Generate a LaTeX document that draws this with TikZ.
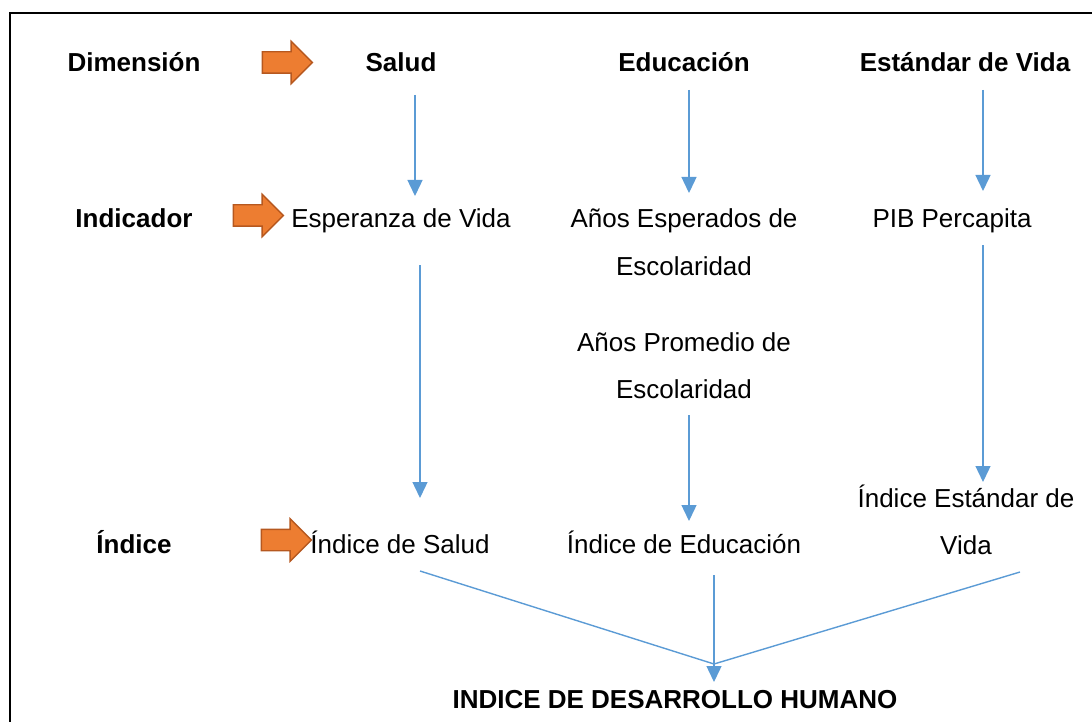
\documentclass[tikz,border=0pt]{standalone}
\usepackage{fontspec}
\setmainfont{Liberation Sans}
\usetikzlibrary{shapes.arrows,arrows.meta}
\definecolor{blueline}{HTML}{5B9BD5}
\definecolor{orfill}{HTML}{ED7D31}
\definecolor{ordraw}{HTML}{B6581F}
\begin{document}
\begin{tikzpicture}[x=1pt,y=-1pt,
  lbl/.style={inner sep=0pt,anchor=base,font=\fontsize{26}{30}\selectfont},
  blbl/.style={lbl,font=\fontsize{26}{30}\selectfont\bfseries},
  blockarrow/.style={single arrow,draw=ordraw,fill=orfill,line width=1.4pt,
    inner sep=10pt,minimum height=50pt,single arrow head extend=10.5pt,
    single arrow head indent=0pt,single arrow tip angle=90},
  conn/.style={draw=blueline,line width=1.4pt},
  arr/.style={conn,-{Triangle[length=16pt,width=15pt]}}]
\useasboundingbox (0,0) rectangle (1092,722);
\draw[line width=2pt] (10,723) -- (10,13) -- (1093,13);
% row 1
\node[blbl] (dim) at (134,72) {Dimensión};
\node[blockarrow] (ar1) at (282,62.5) {};
\node[blbl] (salud) at (401,72) {Salud};
\node[blbl] (edu) at (684,72) {Educación};
\node[blbl] (est) at (965,72) {Estándar de Vida};
% row 2
\node[blbl] (ind) at (134,228) {Indicador};
\node[blockarrow] (ar2) at (253,215.5) {};
\node[lbl] (esp) at (401,228) {Esperanza de Vida};
\node[lbl] (ae1) at (684,228) {Años Esperados de};
\node[lbl] (ae2) at (684,275) {Escolaridad};
\node[lbl] (pib) at (952,228) {PIB Percapita};
\node[lbl] (ap1) at (684,351) {Años Promedio de};
\node[lbl] (ap2) at (684,398) {Escolaridad};
% row 3
\node[blbl] (indice) at (134,553) {Índice};
\node[blockarrow] (ar3) at (281,540) {};
\node[lbl] (isal) at (400,553) {Índice de Salud};
\node[lbl] (iedu) at (684,553) {Índice de Educación};
\node[lbl] (iest1) at (966,507) {Índice Estándar de};
\node[lbl] (iest2) at (966,554) {Vida};
\node[blbl] (idh) at (675,708) {INDICE DE DESARROLLO HUMANO};
% connector end points
\coordinate (s1) at (415,95);  \coordinate (e1) at (415,196);
\coordinate (s2) at (689,90);  \coordinate (e2) at (689,193);
\coordinate (s3) at (983,90);  \coordinate (e3) at (983,191);
\coordinate (s4) at (420,265); \coordinate (e4) at (420,498);
\coordinate (s5) at (983,245); \coordinate (e5) at (983,482);
\coordinate (s6) at (689,415); \coordinate (e6) at (689,521);
\coordinate (l1) at (420,571);
\coordinate (l2) at (714,575);
\coordinate (l3) at (1020,572);
\coordinate (m) at (714,664);
\coordinate (mt) at (714,682);
\draw[arr] (s1) -- (e1);
\draw[arr] (s2) -- (e2);
\draw[arr] (s3) -- (e3);
\draw[arr] (s4) -- (e4);
\draw[arr] (s5) -- (e5);
\draw[arr] (s6) -- (e6);
\draw[conn] (l1) -- (m);
\draw[conn] (l3) -- (m);
\draw[arr] (l2) -- (mt);
\end{tikzpicture}
\end{document}
